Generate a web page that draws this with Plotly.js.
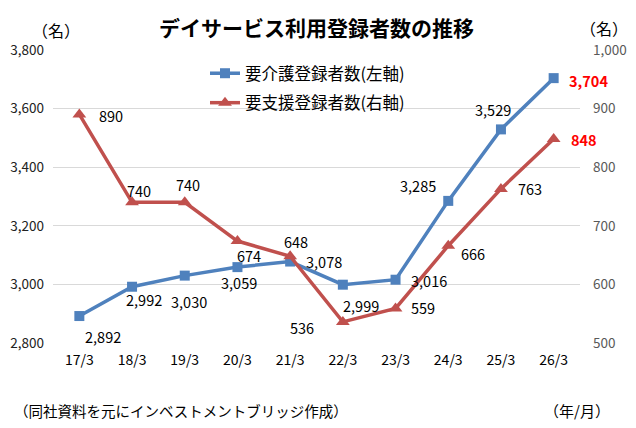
<!DOCTYPE html>
<html>
<head>
<meta charset="utf-8">
<script src="https://cdn.plot.ly/plotly-3.0.1.min.js"></script>
<style>
  html, body { margin: 0; padding: 0; background: #fff; }
  #chart { width: 636px; height: 428px; }
</style>
</head>
<body>
<div id="chart"></div>
<script>
  "use strict";

  // data
  const periods = ['17/3', '18/3', '19/3', '20/3', '21/3', '22/3', '23/3', '24/3', '25/3', '26/3'];
  const careUsers = [2892, 2992, 3030, 3059, 3078, 2999, 3016, 3285, 3529, 3704];   // left axis
  const supportUsers = [890, 740, 740, 674, 648, 536, 559, 666, 763, 848];        // right axis

  const careName = '要介護登録者数(左軸)';
  const supportName = '要支援登録者数(右軸)';

  // label offsets (px) from each point: [dx, dy]  (dy down = positive)
  const careOffsets = [[24, 20], [12, 13], [4, 26], [2, 15], [34, 0], [18, 21], [33, 1], [-30, -15], [-8, -20], [35, 2]];
  const supportOffsets = [[32, 1], [7, -12], [3, -18], [12, 14], [6, -15], [-41, 6], [27, -1], [25, 8], [29, 0], [30, 0]];

  const font = '"Noto Sans CJK JP", "Noto Sans", sans-serif';
  const blue = '#4F81BD', red = '#C0504D';

  let traces = [
    {
      x: periods, y: careUsers, name: careName, type: 'scatter', mode: 'lines+markers',
      legendgroup: 'care',
      line: {color: blue, width: 3.5},
      marker: {symbol: 'square', size: 10, color: blue},
      yaxis: 'y'
    },
    {
      x: periods, y: supportUsers, name: supportName, type: 'scatter', mode: 'lines+markers',
      legendgroup: 'support',
      line: {color: red, width: 3.5},
      marker: {symbol: 'triangle-up', size: 12, color: red},
      yaxis: 'y2'
    }
  ];

  // value labels, the last one in each series highlighted
  let fmt = v => v.toLocaleString('en-US');
  let annotations = [];
  function addLabels(values, offsets, yref) {
    values.forEach((v, i) => {
      let last = i === values.length - 1;
      annotations.push({
        x: periods[i], y: v, xref: 'x', yref: yref,
        text: last ? '<b>' + fmt(v) + '</b>' : fmt(v),
        showarrow: false,
        xshift: offsets[i][0], yshift: -offsets[i][1],
        font: {family: font, size: 14.5, color: last ? '#FF0000' : '#000'}
      });
    });
  }
  addLabels(careUsers, careOffsets, 'y');
  addLabels(supportUsers, supportOffsets, 'y2');

  // units and source notes
  let note = (text, x, y, anchor, size) => ({
    text: text, xref: 'paper', yref: 'paper', x: x, y: y,
    xanchor: anchor, yanchor: 'middle', showarrow: false,
    font: {family: font, size: size || 15, color: '#000'}
  });
  let px = x => (x - 53) / 527, py = y => (343 - y) / 293;
  annotations.push(note('（名）', px(30), py(30), 'left', 16));
  annotations.push(note('（名）', px(578), py(28), 'left', 16));
  annotations.push(note('（同社資料を元にインベストメントブリッジ作成）', px(12), py(411), 'left', 14.5));
  annotations.push(note('（年/月）', px(542), py(411), 'left', 15));

  let layout = {
    width: 636, height: 428,
    margin: {l: 53, r: 56, t: 50, b: 85, pad: 0},
    paper_bgcolor: '#fff', plot_bgcolor: '#fff',
    font: {family: font, color: '#000'},
    title: {
      text: '<b>デイサービス利用登録者数の推移</b>',
      x: 0.5, xref: 'paper', y: 1 - 29 / 428, yanchor: 'middle',
      font: {family: font, size: 21, color: '#000'}
    },
    showlegend: true,
    legend: {
      x: px(205), y: py(56), xanchor: 'left', yanchor: 'top',
      bgcolor: 'rgba(0,0,0,0)', traceorder: 'grouped', tracegroupgap: 5,
      font: {family: font, size: 16.5, color: '#000'}
    },
    xaxis: {
      type: 'category', range: [-0.5, 9.5],
      showgrid: false, zeroline: false, showline: false,
      ticks: '', ticklabelstandoff: 7,
      tickfont: {family: font, size: 14, color: '#000'}
    },
    yaxis: {
      range: [2800, 3800], dtick: 200, tickformat: ',d',
      showgrid: true, gridcolor: '#D9D9D9', gridwidth: 1,
      zeroline: false, showline: false, ticks: '', ticklabelstandoff: 8,
      tickfont: {family: font, size: 13.5, color: '#222'}
    },
    yaxis2: {
      overlaying: 'y', side: 'right',
      range: [500, 1000], dtick: 100, tickformat: ',d',
      showgrid: false, zeroline: false, showline: false, ticks: '', ticklabelstandoff: 12,
      tickfont: {family: font, size: 13.5, color: '#595959'}
    },
    annotations: annotations
  };

  Plotly.newPlot('chart', traces, layout, {displayModeBar: false, staticPlot: true});
</script>
</body>
</html>
